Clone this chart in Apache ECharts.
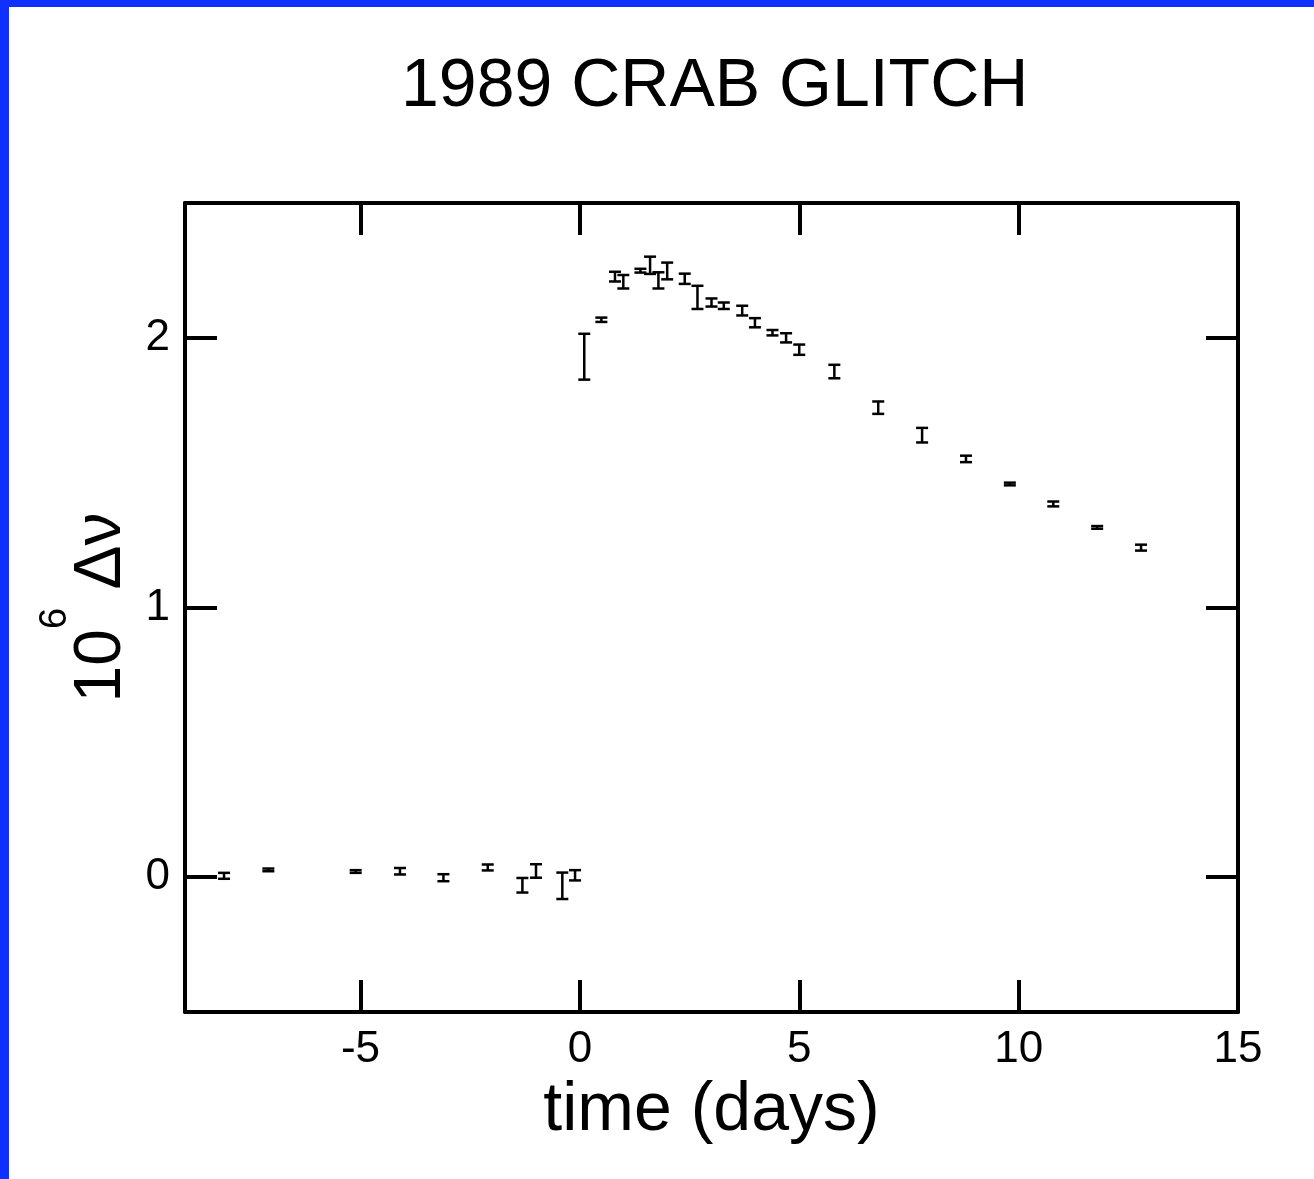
<!DOCTYPE html>
<html>
<head>
<meta charset="utf-8">
<script src="https://cdn.jsdelivr.net/npm/echarts@6/dist/echarts.min.js"></script>
<style>
html,body{margin:0;padding:0;background:#fff}
#chart{width:1314px;height:1179px}
</style>
</head>
<body>
<div id="chart"></div>
<script>
// time relative to the glitch (days), 10^6 dnu, and its error
const times = [-8.11, -7.10, -5.11, -4.10, -3.11, -2.10, -1.31, -1.00, -0.40, -0.11,
  0.10, 0.49, 0.80, 0.99, 1.38, 1.60, 1.79, 1.99, 2.39, 2.68, 3.00, 3.28, 3.70, 3.99,
  4.39, 4.70, 5.00, 5.80, 6.80, 7.80, 8.80, 9.80, 10.79, 11.79, 12.79];
const values = [0.005, 0.027, 0.021, 0.022, -0.002, 0.036, -0.030, 0.023, -0.032, 0.007,
  1.930, 2.067, 2.227, 2.208, 2.249, 2.269, 2.213, 2.248, 2.219, 2.150, 2.131, 2.119, 2.101, 2.056,
  2.019, 2.000, 1.956, 1.875, 1.741, 1.639, 1.551, 1.458, 1.384, 1.297, 1.222];
const errors = [0.011, 0.005, 0.005, 0.012, 0.013, 0.011, 0.027, 0.025, 0.049, 0.019,
  0.085, 0.008, 0.018, 0.025, 0.007, 0.032, 0.030, 0.031, 0.019, 0.043, 0.015, 0.012, 0.018, 0.017,
  0.010, 0.017, 0.019, 0.025, 0.023, 0.027, 0.012, 0.005, 0.009, 0.005, 0.011];
const xTicks = [-5, 0, 5, 10, 15];
const yTicks = [0, 1, 2];

const font = 'Liberation Sans, Arial, Helvetica, sans-serif';
let chart = echarts.init(document.getElementById('chart'));

let pts = times.map((t, i) => [t, values[i], errors[i]]);

function errBar(params, api) {
  let x = api.value(0), y = api.value(1), e = api.value(2);
  let hi = api.coord([x, y + e]);
  let lo = api.coord([x, y - e]);
  let w = 6;
  let st = {stroke: '#000', lineWidth: 2.5};
  return {
    type: 'group',
    children: [
      {type: 'line', shape: {x1: hi[0], y1: hi[1], x2: lo[0], y2: lo[1]}, style: st},
      {type: 'line', shape: {x1: hi[0] - w, y1: hi[1], x2: hi[0] + w, y2: hi[1]}, style: st},
      {type: 'line', shape: {x1: lo[0] - w, y1: lo[1], x2: lo[0] + w, y2: lo[1]}, style: st}
    ]
  };
}

let xBase = {
  type: 'value', min: -9, max: 15,
  axisLine: {show: true, onZero: false, lineStyle: {color: '#000', width: 4}},
  axisTick: {show: true, inside: true, length: 32, customValues: xTicks, lineStyle: {color: '#000', width: 4}},
  splitLine: {show: false}
};
let yBase = {
  type: 'value', min: -0.5, max: 2.5,
  axisLine: {show: true, onZero: false, lineStyle: {color: '#000', width: 4}},
  axisTick: {show: true, inside: true, length: 32, customValues: yTicks, lineStyle: {color: '#000', width: 4}},
  splitLine: {show: false}
};

chart.setOption({
  animation: false,
  backgroundColor: '#fff',
  graphic: [
    {type: 'rect', shape: {x: 0, y: 0, width: 1314, height: 7}, style: {fill: '#1030ff'}},
    {type: 'rect', shape: {x: 0, y: 0, width: 9, height: 1179}, style: {fill: '#1030ff'}}
  ],
  title: {
    text: '1989 CRAB GLITCH',
    left: 396, top: 48,
    textStyle: {fontFamily: font, fontSize: 68, fontWeight: 'normal', color: '#000'}
  },
  grid: {left: 185, right: 76, top: 203, bottom: 167, outerBoundsMode: 'none', containLabel: false},
  xAxis: [
    Object.assign({}, xBase, {
      position: 'bottom',
      name: 'time (days)', nameLocation: 'middle', nameGap: 62,
      nameTextStyle: {fontFamily: font, fontSize: 68, color: '#000'},
      axisLabel: {show: true, customValues: xTicks, margin: 16, fontFamily: font, fontSize: 44, color: '#000'}
    }),
    Object.assign({}, xBase, {position: 'top', axisLabel: {show: false}})
  ],
  yAxis: [
    Object.assign({}, yBase, {
      position: 'left',
      name: '{n|10}{s|6}{n| Δν}', nameLocation: 'middle', nameRotate: 90, nameGap: 13,
      nameTextStyle: {
        fontFamily: font, color: '#000',
        rich: {
          n: {fontFamily: font, fontSize: 66, lineHeight: 130, color: '#000'},
          s: {fontFamily: font, fontSize: 38, lineHeight: 40, verticalAlign: 'top', color: '#000'}
        }
      },
      axisLabel: {show: true, customValues: yTicks, margin: 15, fontFamily: font, fontSize: 44, color: '#000'}
    }),
    Object.assign({}, yBase, {position: 'right', axisLabel: {show: false}})
  ],
  series: [{
    type: 'custom',
    renderItem: errBar,
    encode: {x: 0, y: 1},
    data: pts,
    clip: false
  }]
});
</script>
</body>
</html>
